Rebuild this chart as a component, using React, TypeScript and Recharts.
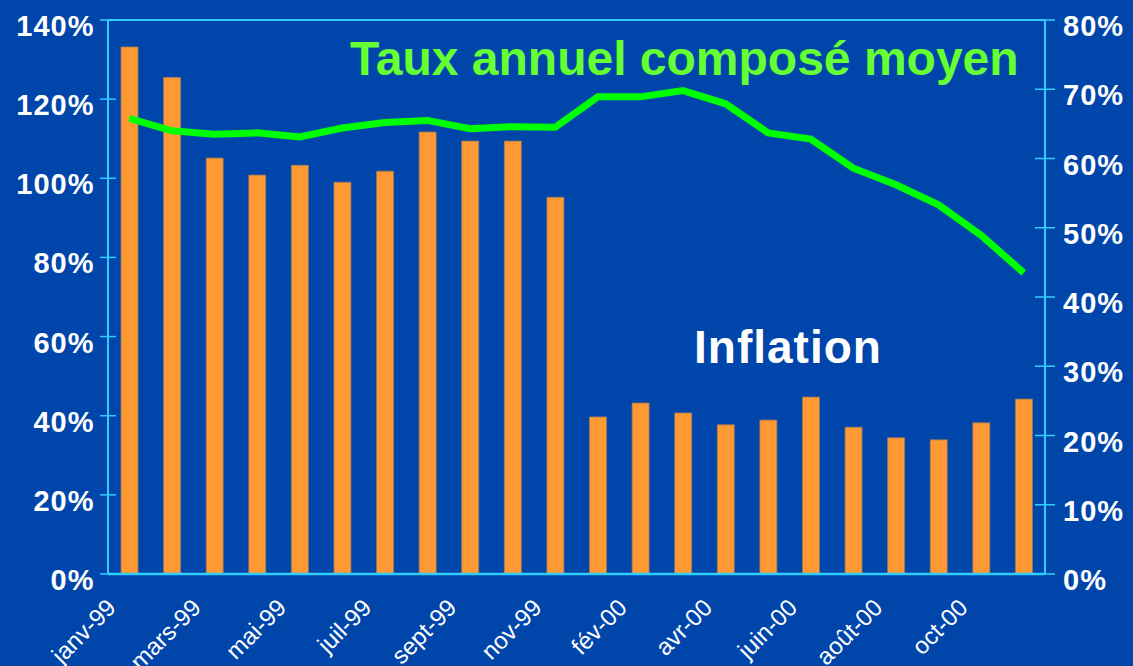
import { ComposedChart, Bar, Line, XAxis, YAxis, ReferenceLine } from 'recharts';

const months = [
  'janv-99', 'févr-99', 'mars-99', 'avr-99', 'mai-99', 'juin-99',
  'juil-99', 'août-99', 'sept-99', 'oct-99', 'nov-99',
  'janv-00', 'fév-00', 'mars-00', 'avr-00', 'mai-00', 'juin-00',
  'juil-00', 'août-00', 'sept-00', 'oct-00', 'nov-00',
];

// inflation, left axis (%)
const inflation = [
  133.2, 125.5, 105.1, 100.8, 103.3, 99.0, 101.8, 111.7, 109.4, 109.4, 95.2,
  39.7, 43.2, 40.7, 37.7, 38.9, 44.7, 37.1, 34.4, 33.9, 38.2, 44.2,
];

// taux annuel composé moyen, right axis (%)
const tauxMoyen = [
  65.8, 64.0, 63.5, 63.7, 63.1, 64.4, 65.2, 65.5, 64.3, 64.6, 64.5,
  68.9, 68.9, 69.8, 67.9, 63.7, 62.8, 58.6, 56.2, 53.3, 48.9, 43.5,
];

const leftTicks = [0, 20, 40, 60, 80, 100, 120, 140];
const rightTicks = [0, 10, 20, 30, 40, 50, 60, 70, 80];

const data = months.map((m, i) => ({
  month: m,
  inflation: inflation[i],
  taux: tauxMoyen[i],
}));

const BG = '#0046AA';
const AXIS = '#33CCFF';
const FONT = '"Liberation Sans", Arial, sans-serif';

const LeftTick = (props: any) => {
  const { x, y, payload } = props;
  const ax = x + 15;
  return (
    <g>
      <line x1={ax - 8} x2={ax + 8} y1={y} y2={y} stroke={AXIS} strokeWidth={1.5} />
      <text x={x + 1.5} y={y + 16} textAnchor="end" fill="#fff" fontFamily={FONT}
        fontWeight="bold" fontSize={29} letterSpacing={1}>
        {payload.value}%
      </text>
    </g>
  );
};

const RightTick = (props: any) => {
  const { x, y, payload } = props;
  const ax = x - 17;
  return (
    <g>
      <line x1={ax - 10} x2={ax + 10} y1={y} y2={y} stroke={AXIS} strokeWidth={1.5} />
      <text x={x + 1} y={y + 16} textAnchor="start" fill="#fff" fontFamily={FONT}
        fontWeight="bold" fontSize={29} letterSpacing={1}>
        {payload.value}%
      </text>
    </g>
  );
};

const MonthTick = (props: any) => {
  const { x, y, payload } = props;
  return (
    <text
      transform={`translate(${x - 12},${y + 27}) rotate(-45)`}
      textAnchor="end"
      fill="#fff"
      fontFamily={FONT}
      fontSize={24}
    >
      {payload.value}
    </text>
  );
};

export default function App() {
  return (
    <div style={{ position: 'relative', width: 1133, height: 666, background: BG, overflow: 'hidden' }}>
      <style>{'body{margin:0}'}</style>
      <ComposedChart
        width={1133}
        height={666}
        data={data}
        margin={{ top: 20, right: 0, bottom: 0, left: 0 }}
        barCategoryGap="30%"
      >
        <XAxis
          dataKey="month"
          height={92}
          interval={1}
          tick={<MonthTick />}
          tickLine={false}
          axisLine={{ stroke: AXIS, strokeWidth: 2.5 }}
        />
        <YAxis
          yAxisId="left"
          width={108}
          domain={[0, 140]}
          ticks={leftTicks}
          tickSize={8}
          tickMargin={7}
          tickLine={false}
          tick={<LeftTick />}
          axisLine={{ stroke: AXIS, strokeWidth: 2 }}
          interval={0}
        />
        <YAxis
          yAxisId="right"
          orientation="right"
          width={88}
          domain={[0, 80]}
          ticks={rightTicks}
          tickSize={8}
          tickMargin={9}
          tickLine={false}
          tick={<RightTick />}
          axisLine={{ stroke: AXIS, strokeWidth: 2 }}
          interval={0}
        />
        <ReferenceLine yAxisId="left" y={140} stroke={AXIS} strokeWidth={2} />
        <Bar
          yAxisId="left"
          dataKey="inflation"
          fill="#FF9933"
          stroke="#9a7a5a"
          strokeWidth={0.8}
          barSize={17}
          isAnimationActive={false}
        />
        <Line
          yAxisId="right"
          dataKey="taux"
          type="linear"
          stroke="#00FF00"
          strokeWidth={7}
          dot={false}
          activeDot={false}
          isAnimationActive={false}
        />
      </ComposedChart>
      <div style={{ position: 'absolute', left: 350, top: 31, color: '#66FF33', fontFamily: FONT,
        fontWeight: 'bold', fontSize: 48, lineHeight: '56px', whiteSpace: 'nowrap' }}>
        Taux annuel composé moyen
      </div>
      <div style={{ position: 'absolute', left: 694, top: 320, color: '#fff', fontFamily: FONT,
        fontWeight: 'bold', fontSize: 46, lineHeight: '54px', whiteSpace: 'nowrap', letterSpacing: 1 }}>
        Inflation
      </div>
    </div>
  );
}
